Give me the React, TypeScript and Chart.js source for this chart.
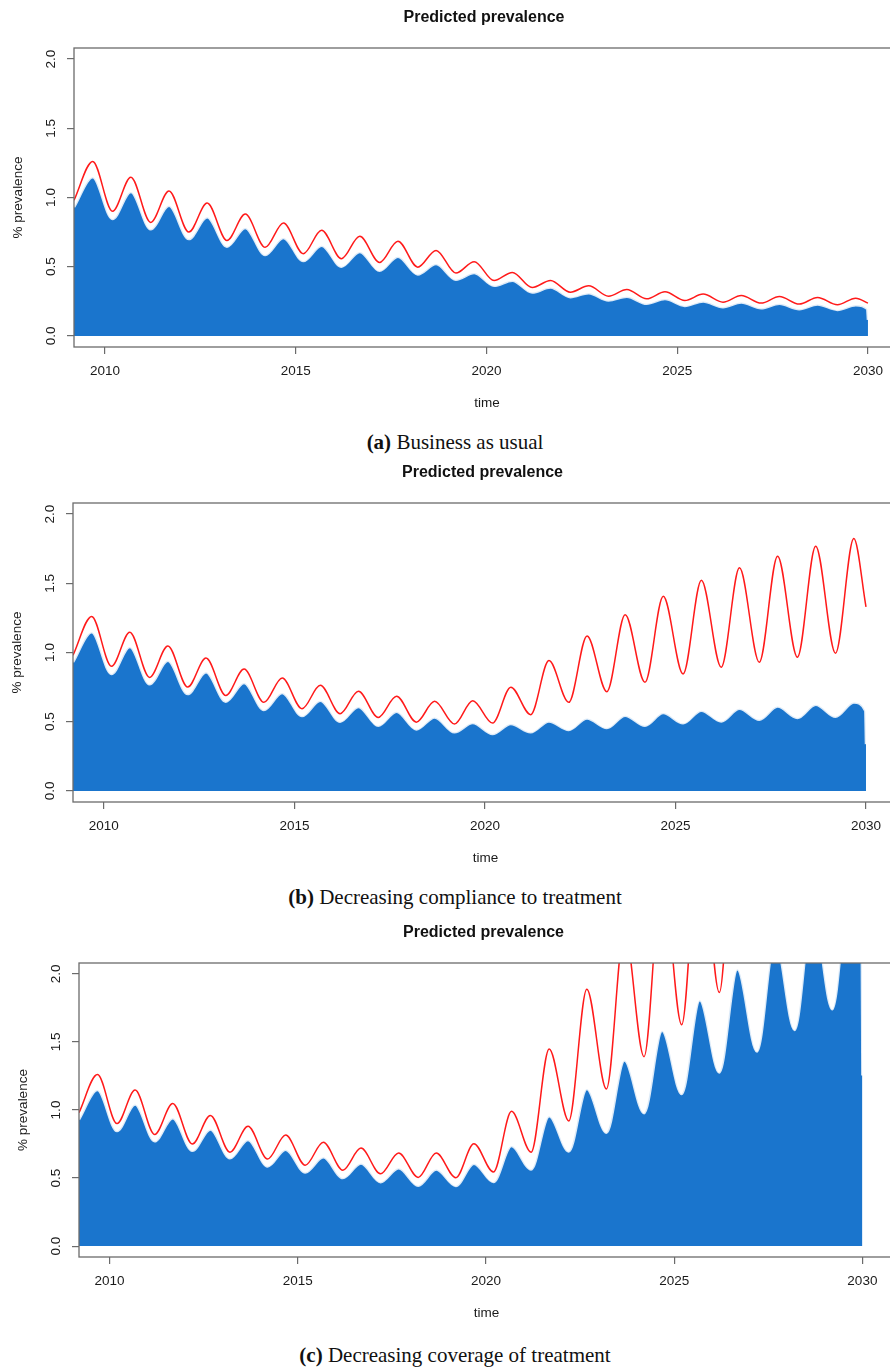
import { useEffect, useRef } from "react";
import { Chart, registerables } from "chart.js";

Chart.register(...registerables);

// Times of the seasonal troughs and peaks (start of run, then peak/trough pairs, end of run)
const extremaYears = [
  2009.19, 2009.68, 2010.2, 2010.68, 2011.2, 2011.68, 2012.2, 2012.68, 2013.2, 2013.68,
  2014.2, 2014.68, 2015.2, 2015.68, 2016.2, 2016.68, 2017.2, 2017.68, 2018.2, 2018.68,
  2019.2, 2019.68, 2020.2, 2020.68, 2021.2, 2021.68, 2022.2, 2022.68, 2023.2, 2023.68,
  2024.2, 2024.68, 2025.2, 2025.68, 2026.2, 2026.68, 2027.2, 2027.68, 2028.2, 2028.68,
  2029.2, 2029.68, 2030.0,
];

// The shaded area ends with a last, lower record at 2030
const areaYears = [
  2009.19, 2009.68, 2010.2, 2010.68, 2011.2, 2011.68, 2012.2, 2012.68, 2013.2, 2013.68,
  2014.2, 2014.68, 2015.2, 2015.68, 2016.2, 2016.68, 2017.2, 2017.68, 2018.2, 2018.68,
  2019.2, 2019.68, 2020.2, 2020.68, 2021.2, 2021.68, 2022.2, 2022.68, 2023.2, 2023.68,
  2024.2, 2024.68, 2025.2, 2025.68, 2026.2, 2026.68, 2027.2, 2027.68, 2028.2, 2028.68,
  2029.2, 2029.68, 2029.98, 2030.0,
];

// (a) Business as usual
const upperBusinessAsUsual = [
  0.98, 1.26, 0.9, 1.147, 0.82, 1.047, 0.75, 0.96, 0.69, 0.88,
  0.64, 0.816, 0.594, 0.763, 0.558, 0.72, 0.531, 0.684, 0.497, 0.618,
  0.454, 0.536, 0.4, 0.459, 0.35, 0.4, 0.316, 0.362, 0.287, 0.335,
  0.268, 0.319, 0.256, 0.302, 0.244, 0.292, 0.237, 0.285, 0.23, 0.278,
  0.225, 0.273, 0.237,
];
const areaBusinessAsUsual = [
  0.93, 1.147, 0.845, 1.04, 0.77, 0.94, 0.7, 0.857, 0.645, 0.78,
  0.585, 0.708, 0.541, 0.652, 0.5, 0.607, 0.47, 0.572, 0.444, 0.519,
  0.406, 0.454, 0.362, 0.399, 0.314, 0.35, 0.28, 0.309, 0.256, 0.283,
  0.232, 0.266, 0.217, 0.249, 0.208, 0.241, 0.2, 0.232, 0.193, 0.227,
  0.188, 0.222, 0.195, 0.116,
];

// (b) Decreasing compliance to treatment
const upperCompliance = [
  0.98, 1.26, 0.9, 1.147, 0.82, 1.047, 0.75, 0.96, 0.69, 0.88,
  0.64, 0.816, 0.594, 0.763, 0.558, 0.72, 0.531, 0.684, 0.497, 0.647,
  0.483, 0.652, 0.49, 0.749, 0.551, 0.942, 0.64, 1.12, 0.717, 1.273,
  0.785, 1.406, 0.845, 1.522, 0.894, 1.612, 0.93, 1.696, 0.966, 1.768,
  0.995, 1.824, 1.33,
];
const areaCompliance = [
  0.93, 1.147, 0.845, 1.04, 0.77, 0.94, 0.7, 0.857, 0.645, 0.78,
  0.585, 0.708, 0.541, 0.652, 0.5, 0.607, 0.47, 0.572, 0.444, 0.531,
  0.423, 0.49, 0.411, 0.483, 0.423, 0.502, 0.44, 0.524, 0.454, 0.543,
  0.471, 0.563, 0.488, 0.58, 0.502, 0.594, 0.514, 0.609, 0.527, 0.623,
  0.536, 0.638, 0.58, 0.338,
];

// (c) Decreasing coverage of treatment (values above 2.08 run off the top of the panel)
const upperCoverage = [
  0.98, 1.26, 0.9, 1.147, 0.82, 1.047, 0.75, 0.96, 0.69, 0.88,
  0.64, 0.816, 0.594, 0.763, 0.558, 0.72, 0.531, 0.684, 0.505, 0.684,
  0.503, 0.752, 0.544, 0.99, 0.69, 1.448, 0.92, 1.888, 1.155, 2.33,
  1.392, 2.75, 1.626, 3.1, 1.863, 3.5, 2.15, 3.85, 2.4, 4.2,
  2.65, 4.5, 3.7,
];
const areaCoverage = [
  0.93, 1.147, 0.845, 1.04, 0.77, 0.94, 0.7, 0.857, 0.645, 0.78,
  0.585, 0.708, 0.541, 0.652, 0.5, 0.607, 0.47, 0.572, 0.444, 0.562,
  0.442, 0.606, 0.471, 0.735, 0.563, 0.955, 0.695, 1.155, 0.833, 1.363,
  0.977, 1.582, 1.118, 1.807, 1.275, 2.034, 1.429, 2.26, 1.588, 2.48,
  1.741, 2.7, 2.35, 1.253,
];

const timeTicks = [2010, 2015, 2020, 2025, 2030];
const prevalenceTicks = [0, 0.5, 1, 1.5, 2];

const PLOT_TITLE = "Predicted prevalence";
const X_TITLE = "time";
const Y_TITLE = "% prevalence";

const SANS = '"Liberation Sans", Arial, Helvetica, sans-serif';
const SERIF = '"Liberation Serif", "Times New Roman", serif';
const AXIS_GREY = "#6b6b6b";
const TEXT = "#1a1a1a";
const FILL_BLUE = "#1a75cd";
const LINE_RED = "#ff1a1a";

type PanelSpec = {
  key: string;
  top: number;
  width: number;
  height: number;
  boxLeft: number;
  upper: number[];
  area: number[];
  label: string;
  caption: string;
  captionTop: number;
};

const panels: PanelSpec[] = [
  {
    key: "a", top: 0, width: 900, height: 413, boxLeft: 74,
    upper: upperBusinessAsUsual, area: areaBusinessAsUsual,
    label: "(a)", caption: "Business as usual", captionTop: 429.5,
  },
  {
    key: "b", top: 455, width: 898, height: 413, boxLeft: 73,
    upper: upperCompliance, area: areaCompliance,
    label: "(b)", caption: "Decreasing compliance to treatment", captionTop: 885,
  },
  {
    key: "c", top: 915, width: 894, height: 408, boxLeft: 79,
    upper: upperCoverage, area: areaCoverage,
    label: "(c)", caption: "Decreasing coverage of treatment", captionTop: 1343,
  },
];

const X_MIN = 2009.19;
const X_MAX = 2030.84;
const Y_MIN = -0.08;
const Y_MAX = 2.08;

function PrevalencePanel({ spec }: { spec: PanelSpec }) {
  const canvasRef = useRef<HTMLCanvasElement | null>(null);

  useEffect(() => {
    const canvas = canvasRef.current;
    if (!canvas) return;

    // Plot frame plus the bold heading centred over the plotting region
    const framePlugin = {
      id: "frame",
      afterDatasetsDraw(chart: any) {
        const { ctx, chartArea: a } = chart;
        ctx.save();
        ctx.strokeStyle = AXIS_GREY;
        ctx.lineWidth = 1.3;
        ctx.strokeRect(a.left, a.top, a.right - a.left, a.bottom - a.top);
        ctx.restore();
      },
      afterDraw(chart: any) {
        const { ctx, chartArea: a } = chart;
        ctx.save();
        ctx.fillStyle = "#111";
        ctx.font = `bold 16px ${SANS}`;
        ctx.textAlign = "center";
        ctx.textBaseline = "middle";
        ctx.fillText(PLOT_TITLE, (a.left + a.right) / 2 - 3, a.top - 30.5);
        ctx.restore();
      },
    };

    const chart = new Chart(canvas, {
      type: "line",
      data: {
        datasets: [
          {
            label: "upper",
            data: extremaYears.map((x, i) => ({ x, y: spec.upper[i] })),
            borderColor: LINE_RED,
            borderWidth: 1.5,
            pointRadius: 0,
            fill: false,
            cubicInterpolationMode: "monotone",
            clip: 0,
          },
          {
            label: "prevalence",
            data: areaYears.map((x, i) => ({ x, y: spec.area[i] })),
            borderColor: "rgba(255,255,255,0.85)",
            borderWidth: 2.5,
            backgroundColor: FILL_BLUE,
            pointRadius: 0,
            fill: "origin",
            cubicInterpolationMode: "monotone",
            clip: 0,
          },
        ],
      },
      options: {
        responsive: false,
        animation: false,
        events: [],
        devicePixelRatio: 1,
        layout: { padding: { top: 48, left: 0, right: 0, bottom: 0 } },
        plugins: {
          legend: { display: false },
          tooltip: { enabled: false },
          title: { display: false },
        },
        scales: {
          x: {
            type: "linear",
            min: X_MIN,
            max: X_MAX,
            afterBuildTicks: (scale: any) => {
              scale.ticks = timeTicks.map((value) => ({ value }));
            },
            afterFit: (scale: any) => {
              scale.height = 66;
            },
            grid: {
              display: true,
              drawOnChartArea: false,
              drawTicks: true,
              tickLength: 7,
              color: AXIS_GREY,
              lineWidth: 1.2,
            },
            border: { display: false },
            ticks: {
              color: TEXT,
              font: { family: SANS, size: 13.5 },
              padding: 9,
              maxRotation: 0,
              autoSkip: false,
              callback: (v: any) => String(v),
            },
            title: {
              display: true,
              text: X_TITLE,
              color: TEXT,
              font: { family: SANS, size: 13.5 },
              padding: { top: 0, bottom: 2 },
            },
          },
          y: {
            type: "linear",
            min: Y_MIN,
            max: Y_MAX,
            afterBuildTicks: (scale: any) => {
              scale.ticks = prevalenceTicks.map((value) => ({ value }));
            },
            afterFit: (scale: any) => {
              scale.width = spec.boxLeft;
            },
            grid: {
              display: true,
              drawOnChartArea: false,
              drawTicks: true,
              tickLength: 7,
              color: AXIS_GREY,
              lineWidth: 1.2,
            },
            border: { display: false },
            ticks: {
              color: TEXT,
              font: { family: SANS, size: 13.5 },
              padding: 6,
              minRotation: 90,
              maxRotation: 90,
              crossAlign: "center",
              autoSkip: false,
              callback: (v: any) => Number(v).toFixed(1),
            },
            title: {
              display: true,
              text: Y_TITLE,
              color: TEXT,
              font: { family: SANS, size: 13.5 },
              padding: { top: spec.boxLeft - 55.5 - 8.1, bottom: 0 },
            },
          },
        },
      },
      plugins: [framePlugin],
    } as any);

    return () => chart.destroy();
  }, [spec]);

  return (
    <canvas
      ref={canvasRef}
      width={spec.width}
      height={spec.height}
      style={{
        position: "absolute",
        left: 0,
        top: spec.top,
        width: spec.width,
        height: spec.height,
      }}
    />
  );
}

export default function App() {
  return (
    <div
      style={{
        position: "absolute",
        left: 0,
        top: 0,
        width: 890,
        height: 1367,
        overflow: "hidden",
        background: "#ffffff",
      }}
    >
      {panels.map((p) => (
        <PrevalencePanel key={p.key} spec={p} />
      ))}
      {panels.map((p) => (
        <div
          key={`cap-${p.key}`}
          style={{
            position: "absolute",
            left: 0,
            width: 910,
            top: p.captionTop,
            textAlign: "center",
            fontFamily: SERIF,
            fontSize: 21,
            lineHeight: "24px",
            color: "#111",
            whiteSpace: "nowrap",
          }}
        >
          <b>{p.label}</b> {p.caption}
        </div>
      ))}
    </div>
  );
}
